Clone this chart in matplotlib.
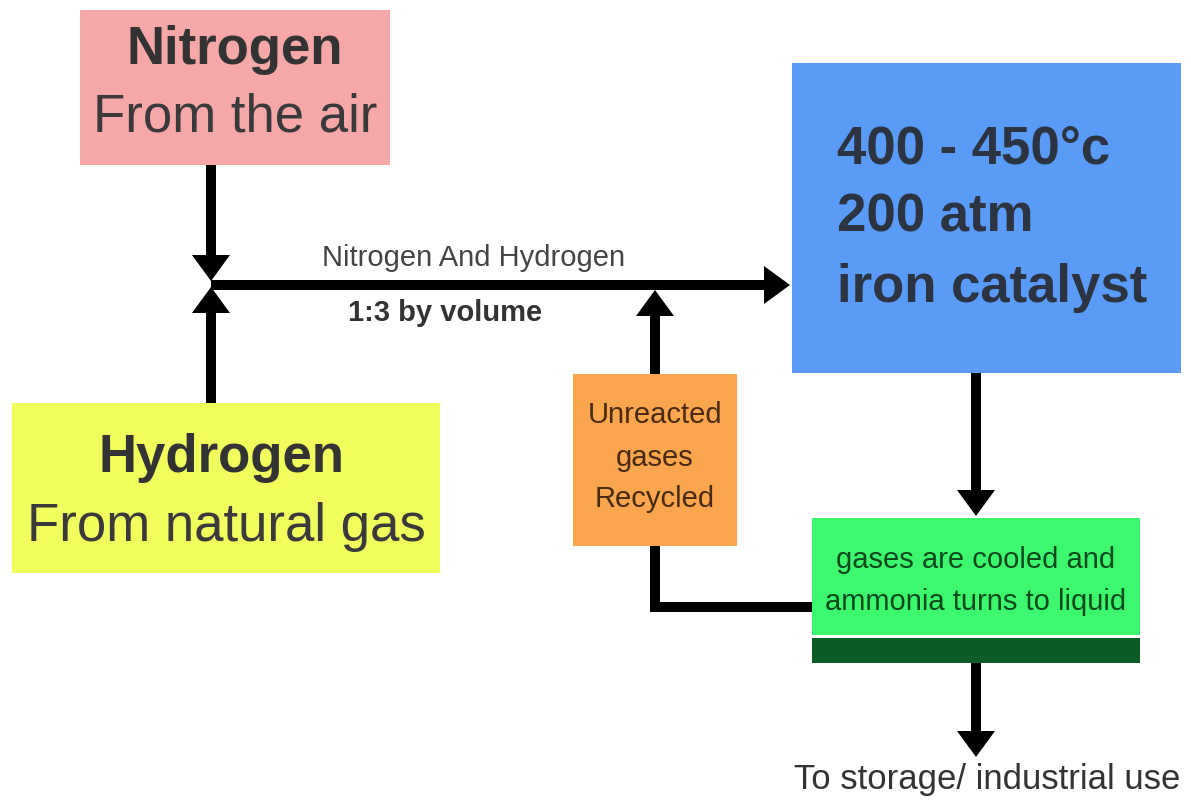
import matplotlib.pyplot as plt
from matplotlib.patches import Rectangle, Polygon

plt.rcParams['font.family'] = ['Liberation Sans', 'DejaVu Sans']

# boxes: (x, y, w, h, colour) in pixel coords, y downward
box_names = ['nitrogen', 'hydrogen', 'reactor', 'recycle', 'cooler', 'liquid']
box_rects = [(80, 10, 310, 155), (12, 403, 428, 170), (792, 63, 389, 310),
             (573, 374, 164, 172), (812, 518, 328, 117), (812, 638, 328, 25)]
box_colors = ['#F6A7A7', '#F0FF5E', '#5A9BF8', '#F9A64F', '#3DF76E', '#0A5C25']

# arrows (polyline points, last point is the tip)
arrow_paths = [
    [(211, 165), (211, 281)],
    [(211, 403), (211, 287)],
    [(211, 285), (790, 285)],
    [(655, 374), (655, 290)],
    [(976, 373), (976, 516)],
    [(976, 663), (976, 757)],
]
loop_path = [(812, 607), (655, 607), (655, 546)]

# texts: (x, y, string, size, weight, colour, ha)
texts = [
    (235, 50, 'Nitrogen', 38, 'bold', '#333333', 'center'),
    (235, 118, 'From the air', 38, 'normal', '#3a3a3a', 'center'),
    (222, 458, 'Hydrogen', 38, 'bold', '#333333', 'center'),
    (226, 527, 'From natural gas', 38, 'normal', '#3a3a3a', 'center'),
    (837, 150, '400 - 450°c', 38, 'bold', '#2B3440', 'left'),
    (837, 218, '200 atm', 38, 'bold', '#2B3440', 'left'),
    (837, 288, 'iron catalyst', 38, 'bold', '#2B3440', 'left'),
    (655, 415, 'Unreacted', 21, 'normal', '#4A2A12', 'center'),
    (655, 458, 'gases', 21, 'normal', '#4A2A12', 'center'),
    (655, 499, 'Recycled', 21, 'normal', '#4A2A12', 'center'),
    (976, 560, 'gases are cooled and', 21, 'normal', '#0B4A1C', 'center'),
    (976, 602, 'ammonia turns to liquid', 21, 'normal', '#0B4A1C', 'center'),
    (474, 258, 'Nitrogen And Hydrogen', 21, 'normal', '#444444', 'center'),
    (445, 313, '1:3 by volume', 21, 'bold', '#333333', 'center'),
    (987, 780, 'To storage/ industrial use', 25, 'normal', '#333333', 'center'),
]

LW = 7.2          # line width in points (about 10 px)
HEAD_W = 38       # arrowhead width, px
HEAD_L = 26       # arrowhead length, px

fig = plt.figure(figsize=(11.91, 8.01), dpi=100)
ax = fig.add_axes([0, 0, 1, 1])
ax.set_xlim(0, 1191)
ax.set_ylim(801, 0)
ax.axis('off')

for (x, y, w, h), c in zip(box_rects, box_colors):
    ax.add_patch(Rectangle((x, y), w, h, facecolor=c, edgecolor='none', zorder=1))


def draw_arrow(path):
    (x0, y0), (x1, y1) = path[-2], path[-1]
    dx, dy = x1 - x0, y1 - y0
    L = (dx ** 2 + dy ** 2) ** 0.5
    ux, uy = dx / L, dy / L
    bx, by = x1 - ux * HEAD_L, y1 - uy * HEAD_L
    xs = [p[0] for p in path[:-1]] + [bx]
    ys = [p[1] for p in path[:-1]] + [by]
    ax.plot(xs, ys, color='black', lw=LW, solid_capstyle='butt',
            solid_joinstyle='miter', zorder=3)
    px, py = -uy * HEAD_W / 2, ux * HEAD_W / 2
    ax.add_patch(Polygon([(x1, y1), (bx + px, by + py), (bx - px, by - py)],
                         closed=True, facecolor='black', edgecolor='none', zorder=4))


for p in arrow_paths:
    draw_arrow(p)

ax.plot([p[0] for p in loop_path], [p[1] for p in loop_path], color='black',
        lw=LW, solid_capstyle='butt', solid_joinstyle='miter', zorder=3)

for x, y, s, size, weight, c, ha in texts:
    ax.text(x, y, s, fontsize=size, fontweight=weight, color=c, ha=ha,
            va='center', zorder=5)

fig.savefig('out.png', dpi=100)
